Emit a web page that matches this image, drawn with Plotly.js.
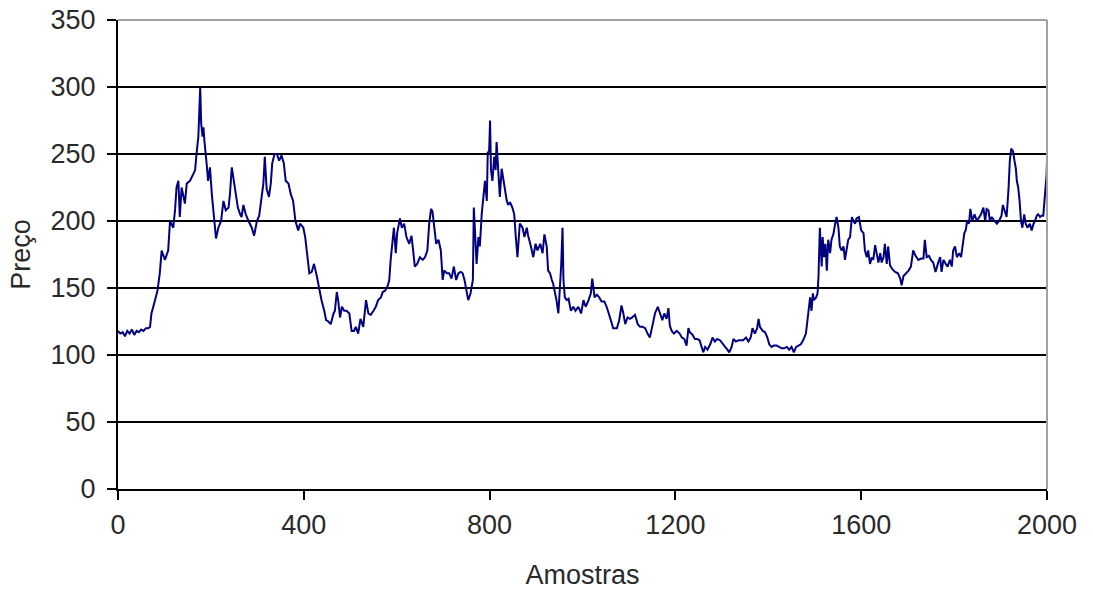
<!DOCTYPE html>
<html>
<head>
<meta charset="utf-8">
<script src="https://cdn.plot.ly/plotly-3.0.1.min.js"></script>
<style>
html,body{margin:0;padding:0;background:#fff;}
#chart{width:1093px;height:592px;}
</style>
</head>
<body>
<div id="chart"></div>
<script>
// Values (sample index -> price)
const samplesA = [0,5,10,15,20,25,30,35,40,45,50,55,60,65,69,72,76,80,85,90,94,101,108,112,119,123,126,130,133,137,144,148,155,162,166,169,173,177,179,182,184,186,189,191,194,198,202,207,211,216,222,227,232,238,241,245,248,253,258,263,266,270,275,281,288,293,299,304,309,313,316,320,325,329,332,337,342,347,352,357,361,367,372,377,382,388];
const pricesA  = [118,116,117,114,118,116,119,115,118,117,119,118,120,120,121,131,136,141,148,161,178,171,178,200,195,209,225,230,203,225,213,228,230,235,238,250,263,300,273,263,270,260,245,242,230,240,220,198,187,195,200,215,208,210,220,240,233,218,210,205,203,212,205,200,195,189,200,204,220,228,248,224,218,228,243,250,250,245,249,243,230,228,220,215,200,193];

const samplesB = [392,399,403,408,412,417,422,428,431,435,438,444,448,453,458,464,467,471,474,478,482,487,492,498,503,508,512,517,522,528,534,539,544,550,555,560,566,570,575,580,584,587,591,594,598,601,607,611,616,621,627,632,636,639,644,650,656,661,666,670,674,677,681,685,690,695,699,702,708,713,718,723,728,733,738,742,746,749,754,759,764,766,769,772,776,779,783,787];
const pricesB  = [198,195,188,171,161,162,168,159,153,146,141,133,126,125,123,131,133,147,141,128,136,133,133,131,118,118,121,116,127,121,141,131,130,133,136,141,143,147,148,151,156,171,186,195,176,191,202,195,198,188,183,189,176,166,168,173,171,173,178,198,209,207,195,183,186,178,156,163,161,161,157,166,156,161,162,161,156,151,141,146,156,210,188,168,188,181,205,218];

const samplesC = [790,794,796,799,801,803,806,810,813,815,819,822,826,830,833,837,840,844,849,853,856,860,862,865,871,875,880,883,889,894,899,903,909,914,918,923,926,930,934,937,941,944,948,952,954,957,959,962,966,970,975,980,985,991,997,1002,1007,1013,1018,1021,1026,1031,1036,1041,1047,1052,1057,1061,1066,1074,1079,1084,1088,1092,1097,1102,1107,1113,1119,1124,1129,1135,1140,1145,1150,1156,1162,1167,1172,1176,1181,1185];
const pricesC  = [230,215,251,252,275,238,230,248,238,259,235,218,239,230,225,215,212,214,210,205,190,173,183,198,195,188,195,189,181,173,183,178,183,176,190,181,163,161,156,153,146,141,131,151,166,195,156,143,141,142,133,136,133,136,131,141,136,141,146,157,143,145,143,140,140,136,131,126,120,120,126,137,131,123,128,127,128,130,123,121,121,120,116,113,121,131,136,131,126,131,127,135];

const samplesD = [1188,1192,1197,1203,1209,1214,1219,1224,1228,1231,1237,1242,1247,1252,1257,1260,1264,1269,1275,1280,1285,1290,1296,1302,1307,1312,1316,1321,1325,1330,1336,1341,1346,1352,1357,1362,1366,1371,1376,1379,1382,1388,1393,1398,1402,1407,1412,1418,1424,1429,1434,1440,1445,1450,1455,1460,1465,1470,1475,1481,1486,1490,1493,1496,1498,1503,1506,1508,1511,1515,1517,1520,1523,1526,1529,1533,1536,1540,1544,1547,1551,1554,1558,1562,1565,1569,1572,1576,1580,1583];
const pricesD  = [122,118,116,118,116,113,112,107,120,117,115,112,112,111,106,102,106,104,108,113,110,112,111,108,106,104,102,106,112,110,111,111,111,113,110,113,120,116,120,127,121,118,117,113,108,106,107,107,106,105,105,106,104,106,102,106,107,108,111,116,131,143,133,146,141,143,146,158,195,166,188,173,183,163,186,176,186,190,198,203,195,181,178,181,171,178,186,188,203,200];

const samplesE = [1587,1590,1595,1600,1605,1608,1612,1615,1619,1623,1626,1630,1633,1637,1641,1644,1648,1651,1655,1658,1662,1667,1673,1679,1684,1687,1691,1696,1702,1707,1712,1717,1723,1729,1734,1737,1741,1746,1750,1755,1760,1765,1770,1773,1777,1782,1786,1791,1795,1798,1802,1806,1811,1815,1818,1822,1825,1828,1832,1835,1839,1844,1849,1854,1858,1863,1867,1870,1874,1877,1881,1887,1892,1897,1902,1905,1910,1913,1917,1920,1923,1927,1930,1933,1935,1938,1941,1944,1947,1951,1954,1958,1963,1967,1971,1974,1978,1981,1985,1988,1992,1996,1999,2000];
const pricesE  = [198,202,203,193,191,178,173,178,168,173,171,182,176,169,176,169,173,183,168,181,167,164,162,161,157,152,159,161,163,166,178,174,171,172,172,186,173,174,171,169,162,168,173,162,171,168,166,171,166,178,181,173,176,173,183,191,193,200,198,209,200,205,200,203,205,210,200,209,208,200,203,200,198,200,204,212,207,203,223,245,254,252,245,239,230,225,215,200,195,205,198,195,198,193,198,200,204,205,203,204,204,218,234,245];

const xTicks = [0,400,800,1200,1600,2000];
const yTicks = [0,50,100,150,200,250,300,350];
const xTitle = 'Amostras';
const yTitle = 'Preço';

const xs = [].concat(samplesA, samplesB, samplesC, samplesD, samplesE);
const ys = [].concat(pricesA, pricesB, pricesC, pricesD, pricesE);

const font = {family: 'Liberation Sans, Arial, sans-serif', size: 27, color: '#2a2a2a'};

const trace = {
  x: xs, y: ys, type: 'scatter', mode: 'lines',
  line: {color: '#000080', width: 2},
  hoverinfo: 'none'
};

const layout = {
  width: 1093, height: 592,
  margin: {l: 118, r: 46, t: 20, b: 103},
  paper_bgcolor: '#ffffff', plot_bgcolor: '#ffffff',
  showlegend: false,
  font: font,
  xaxis: {
    range: [0, 2000], tickvals: xTicks, ticktext: xTicks.map(String),
    showgrid: false, zeroline: false,
    showline: true, linecolor: '#000', linewidth: 2,
    ticks: 'outside', ticklen: 9, tickwidth: 2, tickcolor: '#000',
    tickfont: font,
    ticklabelstandoff: 2,
    title: {text: xTitle, font: font, standoff: 26}
  },
  yaxis: {
    range: [0, 350], tickvals: yTicks, ticktext: yTicks.map(String),
    showgrid: true, gridcolor: '#000', gridwidth: 2,
    zeroline: false,
    showline: true, linecolor: '#000', linewidth: 2,
    ticks: 'outside', ticklen: 9, tickwidth: 2, tickcolor: '#000',
    tickfont: font,
    ticklabelstandoff: 6,
    title: {text: yTitle, font: font, standoff: 12}
  },
  shapes: [
    {type: 'line', xref: 'paper', yref: 'paper', x0: 0, x1: 1, y0: 1, y1: 1,
     line: {color: '#a0a0a0', width: 2}, layer: 'above'},
    {type: 'line', xref: 'paper', yref: 'paper', x0: 1, x1: 1, y0: 0, y1: 1,
     line: {color: '#a0a0a0', width: 2}, layer: 'above'}
  ]
};

Plotly.newPlot('chart', [trace], layout, {displayModeBar: false, staticPlot: true});
</script>
</body>
</html>
